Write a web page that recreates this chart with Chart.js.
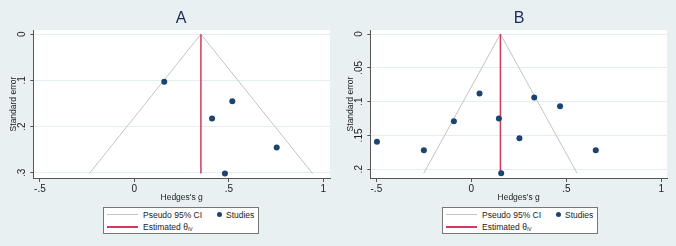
<!DOCTYPE html>
<html>
<head>
<meta charset="utf-8">
<script src="https://cdn.jsdelivr.net/npm/chart.js@4.4.1/dist/chart.umd.min.js"></script>
<style>
  html, body { margin: 0; padding: 0; background: #e9f0f2; }
  body { width: 676px; height: 246px; position: relative; overflow: hidden; font-family: "Liberation Sans", Arial, sans-serif; }
  .panel { position: absolute; top: 0; width: 338px; height: 246px; }
  .panel canvas { position: absolute; left: 0; top: 0; }
  .title { position: absolute; top: 8px; width: 60px; text-align: center; font-size: 16px; color: #1c2a55; line-height: 20px; }
  .legend { position: absolute; top: 207px; width: 156px; height: 27px; background: #fff; border: 1px solid #777; box-sizing: border-box; font-size: 8.5px; color: #222; }
  .legend .ln { position: absolute; left: 3px; width: 31px; }
  .legend .lbl { position: absolute; line-height: 10px; white-space: nowrap; }
  .legend .dot { position: absolute; width: 5px; height: 5px; border-radius: 50%; background: #1b4470; }
  .legend sub { font-size: 5px; vertical-align: -1px; }
</style>
</head>
<body>
<div class="panel" style="left:0">
  <canvas id="cA" width="338" height="246"></canvas>
  <div class="title" style="left:151px">A</div>
  <div class="legend" style="left:103px">
    <div class="ln" style="top:6px;height:1px;background:#c4c4c4"></div>
    <div class="lbl" style="left:39px;top:2px">Pseudo 95% CI</div>
    <div class="dot" style="left:113px;top:4px"></div>
    <div class="lbl" style="left:122px;top:2px">Studies</div>
    <div class="ln" style="top:18px;height:1.5px;background:#cf3a5e"></div>
    <div class="lbl" style="left:39px;top:14px">Estimated θ<sub>IV</sub></div>
  </div>
</div>
<div class="panel" style="left:337px">
  <canvas id="cB" width="338" height="246"></canvas>
  <div class="title" style="left:152px">B</div>
  <div class="legend" style="left:105px">
    <div class="ln" style="top:6px;height:1px;background:#c4c4c4"></div>
    <div class="lbl" style="left:39px;top:2px">Pseudo 95% CI</div>
    <div class="dot" style="left:113px;top:4px"></div>
    <div class="lbl" style="left:122px;top:2px">Studies</div>
    <div class="ln" style="top:18px;height:1.5px;background:#cf3a5e"></div>
    <div class="lbl" style="left:39px;top:14px">Estimated θ<sub>IV</sub></div>
  </div>
</div>
<script>
// panel A: Hedges's g and standard error per study
const gA = [0.158, 0.518, 0.411, 0.753, 0.479];
const seA = [0.103, 0.145, 0.1825, 0.245, 0.3015];
const thetaA = 0.352;

// panel B
const gB = [-0.497, -0.250, -0.092, 0.043, 0.145, 0.157, 0.253, 0.331, 0.467, 0.655];
const seB = [0.1595, 0.172, 0.129, 0.088, 0.125, 0.206, 0.154, 0.094, 0.107, 0.172];
const thetaB = 0.153;

const xTicks = [-0.5, 0, 0.5, 1];
const yTicksA = [0, 0.1, 0.2, 0.3];
const yTicksB = [0, 0.05, 0.1, 0.15, 0.2];

const FAM = '"Liberation Sans", Arial, sans-serif';
const TICKFONT = { family: FAM, size: 10 };
const TITLEFONT = { family: FAM, size: 8.5 };
const AXIS = '#555';

// Stata style numbers: .5, -.5, .05
const fmt = v => {
  const s = String(Math.round(v * 1000) / 1000);
  return s.replace(/^0\./, '.').replace(/^-0\./, '-.');
};

const plotBg = {
  id: 'plotBg',
  beforeDraw(chart) {
    const { ctx, chartArea: a } = chart;
    ctx.save();
    ctx.fillStyle = '#fff';
    ctx.fillRect(a.left, a.top, a.right - a.left, a.bottom - a.top);
    ctx.restore();
  }
};

function funnel(canvasId, g, se, theta, yTicks, xRange, yRange, yPad) {
  const maxSe = Math.max(...se);
  const ci = [
    { x: theta - 1.96 * maxSe, y: maxSe },
    { x: theta, y: 0 },
    { x: theta + 1.96 * maxSe, y: maxSe }
  ];
  const est = [{ x: theta, y: 0 }, { x: theta, y: maxSe }];
  const pts = g.map((v, i) => ({ x: v, y: se[i] }));

  new Chart(document.getElementById(canvasId), {
    type: 'scatter',
    data: {
      datasets: [
        { label: 'Studies', data: pts, pointRadius: 3, pointHoverRadius: 3,
          backgroundColor: '#1b4470', borderColor: '#1b4470', borderWidth: 0, order: 0 },
        { label: 'Pseudo 95% CI', data: ci, showLine: true, pointRadius: 0,
          borderColor: '#c4c4c4', borderWidth: 1, order: 2 },
        { label: 'Estimated', data: est, showLine: true, pointRadius: 0,
          borderColor: '#cf3a5e', borderWidth: 1.5, order: 1 }
      ]
    },
    options: {
      responsive: false,
      animation: false,
      layout: { padding: { left: 0, right: 8, top: 30, bottom: 42 } },
      plugins: { legend: { display: false }, tooltip: { enabled: false } },
      scales: {
        x: {
          type: 'linear', min: xRange[0], max: xRange[1],
          afterBuildTicks: s => { s.ticks = xTicks.map(v => ({ value: v })); },
          afterFit: s => { s.height = 26; },
          grid: { drawOnChartArea: false, drawTicks: true, tickLength: 4, tickColor: AXIS },
          border: { display: true, color: AXIS, width: 1 },
          ticks: { font: TICKFONT, color: '#222', padding: 1, maxRotation: 0, callback: fmt },
          title: { display: true, text: "Hedges's g", font: TITLEFONT, color: '#222', padding: { top: 0, bottom: 1.5 } }
        },
        y: {
          type: 'linear', reverse: true, min: yRange[0], max: yRange[1],
          afterBuildTicks: s => { s.ticks = yTicks.map(v => ({ value: v })); },
          afterFit: s => { s.width = 33.3; },
          grid: { color: '#e4edf1', lineWidth: 1, tickLength: 3, tickColor: AXIS },
          border: { display: true, color: AXIS, width: 1 },
          ticks: { font: TICKFONT, color: '#222', minRotation: 90, maxRotation: 90,
            crossAlign: 'center', padding: yPad, callback: fmt },
          title: { display: true, text: 'Standard error', font: TITLEFONT, color: '#222', padding: { top: 9, bottom: 0 } }
        }
      }
    },
    plugins: [plotBg]
  });
}

funnel('cA', gA, seA, thetaA, yTicksA, [-0.535, 1.035], [-0.009, 0.311], 3.5);
funnel('cB', gB, seB, thetaB, yTicksB, [-0.532, 1.03], [-0.006, 0.213], 1);
</script>
</body>
</html>
